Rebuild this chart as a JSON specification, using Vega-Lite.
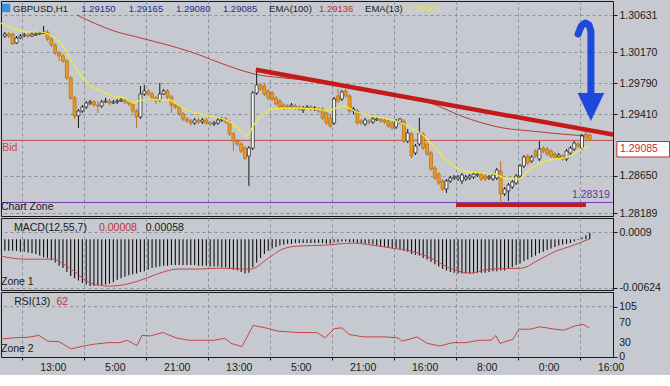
{
"$schema":"https://vega.github.io/schema/vega-lite/v6.json",
"background":"#c6cad0",
"padding":0,
"spacing":2,
"bounds":"flush",
"config":{
 "view":{"stroke":"#1a1a1a","strokeWidth":1},
 "axis":{"labelFont":"Liberation Sans","labelFontSize":10.5,"labelColor":"#1a1a1a","domainColor":"#1a1a1a","tickColor":"#1a1a1a","gridColor":"#8a919b","gridDash":[3,3],"gridWidth":1,"tickSize":4,"labelPadding":2},
 "scale":{"continuousPadding":0},
 "text":{"font":"Liberation Sans","fontSize":10.5,"align":"left","baseline":"middle"}
},
"datasets":{
 "candles":[
{"i":1,"o":1.30372,"h":1.30422,"l":1.30348,"c":1.30397},
{"i":2,"o":1.30397,"h":1.30422,"l":1.30348,"c":1.30372},
{"i":3,"o":1.30397,"h":1.30409,"l":1.30261,"c":1.30274},
{"i":4,"o":1.30286,"h":1.30372,"l":1.30274,"c":1.30348},
{"i":5,"o":1.30348,"h":1.30397,"l":1.30335,"c":1.30372},
{"i":6,"o":1.30372,"h":1.30409,"l":1.3036,"c":1.30385},
{"i":7,"o":1.30385,"h":1.30409,"l":1.30348,"c":1.30372},
{"i":8,"o":1.30372,"h":1.30422,"l":1.3036,"c":1.30397},
{"i":9,"o":1.30385,"h":1.30422,"l":1.30372,"c":1.30397},
{"i":10,"o":1.30397,"h":1.30434,"l":1.30385,"c":1.30409},
{"i":11,"o":1.30409,"h":1.30496,"l":1.30397,"c":1.30422},
{"i":12,"o":1.30422,"h":1.30446,"l":1.30311,"c":1.30335},
{"i":13,"o":1.30335,"h":1.3036,"l":1.30237,"c":1.30261},
{"i":14,"o":1.30261,"h":1.30286,"l":1.30138,"c":1.30163},
{"i":15,"o":1.30163,"h":1.30187,"l":1.30064,"c":1.30126},
{"i":16,"o":1.30126,"h":1.3015,"l":1.30039,"c":1.30064},
{"i":17,"o":1.30064,"h":1.30089,"l":1.2983,"c":1.29854},
{"i":18,"o":1.29854,"h":1.29879,"l":1.29583,"c":1.29608},
{"i":19,"o":1.29608,"h":1.29632,"l":1.29349,"c":1.29386},
{"i":20,"o":1.29386,"h":1.29472,"l":1.29238,"c":1.29447},
{"i":21,"o":1.29447,"h":1.29521,"l":1.29423,"c":1.29497},
{"i":22,"o":1.29497,"h":1.29571,"l":1.29472,"c":1.29546},
{"i":23,"o":1.29546,"h":1.29583,"l":1.29521,"c":1.29558},
{"i":24,"o":1.29558,"h":1.29583,"l":1.29497,"c":1.29521},
{"i":25,"o":1.29521,"h":1.29571,"l":1.29423,"c":1.29509},
{"i":26,"o":1.29509,"h":1.29583,"l":1.29484,"c":1.29558},
{"i":27,"o":1.29558,"h":1.29608,"l":1.29546,"c":1.29571},
{"i":28,"o":1.29571,"h":1.29595,"l":1.29521,"c":1.29546},
{"i":29,"o":1.29546,"h":1.29583,"l":1.29534,"c":1.29558},
{"i":30,"o":1.29558,"h":1.29595,"l":1.29534,"c":1.29571},
{"i":31,"o":1.29571,"h":1.29608,"l":1.29558,"c":1.29583},
{"i":32,"o":1.29583,"h":1.29608,"l":1.29534,"c":1.29558},
{"i":33,"o":1.29558,"h":1.29583,"l":1.29509,"c":1.29534},
{"i":34,"o":1.29534,"h":1.29558,"l":1.29423,"c":1.29447},
{"i":35,"o":1.29447,"h":1.29472,"l":1.29238,"c":1.29373},
{"i":36,"o":1.29373,"h":1.29756,"l":1.29349,"c":1.29657},
{"i":37,"o":1.29657,"h":1.29768,"l":1.29632,"c":1.29694},
{"i":38,"o":1.29694,"h":1.29719,"l":1.29632,"c":1.29657},
{"i":39,"o":1.29657,"h":1.29682,"l":1.29571,"c":1.29608},
{"i":40,"o":1.29608,"h":1.29632,"l":1.29534,"c":1.29571},
{"i":41,"o":1.29583,"h":1.29793,"l":1.29558,"c":1.29657},
{"i":42,"o":1.29657,"h":1.29719,"l":1.29645,"c":1.29694},
{"i":43,"o":1.29694,"h":1.29719,"l":1.29595,"c":1.2962},
{"i":44,"o":1.2962,"h":1.29645,"l":1.29423,"c":1.29521},
{"i":45,"o":1.29521,"h":1.29546,"l":1.29472,"c":1.29497},
{"i":46,"o":1.29497,"h":1.29521,"l":1.29386,"c":1.2941},
{"i":47,"o":1.2941,"h":1.29435,"l":1.29324,"c":1.29349},
{"i":48,"o":1.29349,"h":1.29373,"l":1.29299,"c":1.29324},
{"i":49,"o":1.29324,"h":1.29349,"l":1.29262,"c":1.29299},
{"i":50,"o":1.29299,"h":1.29361,"l":1.29275,"c":1.29336},
{"i":51,"o":1.29336,"h":1.29361,"l":1.29287,"c":1.29312},
{"i":52,"o":1.29312,"h":1.29361,"l":1.29287,"c":1.29336},
{"i":53,"o":1.29336,"h":1.29361,"l":1.29275,"c":1.29299},
{"i":54,"o":1.29299,"h":1.29324,"l":1.29262,"c":1.29287},
{"i":55,"o":1.29287,"h":1.29324,"l":1.29262,"c":1.29299},
{"i":56,"o":1.29299,"h":1.29361,"l":1.29275,"c":1.29336},
{"i":57,"o":1.29336,"h":1.29373,"l":1.29312,"c":1.29349},
{"i":58,"o":1.29349,"h":1.29373,"l":1.29287,"c":1.29312},
{"i":59,"o":1.29312,"h":1.29336,"l":1.29139,"c":1.29163},
{"i":60,"o":1.29163,"h":1.29188,"l":1.28953,"c":1.29076},
{"i":61,"o":1.29076,"h":1.29102,"l":1.29015,"c":1.2904},
{"i":62,"o":1.2904,"h":1.29064,"l":1.28929,"c":1.28953},
{"i":63,"o":1.2899,"h":1.29015,"l":1.28843,"c":1.28867},
{"i":64,"o":1.28892,"h":1.29015,"l":1.28522,"c":1.2899},
{"i":65,"o":1.2899,"h":1.29694,"l":1.28966,"c":1.29669},
{"i":66,"o":1.29669,"h":1.29965,"l":1.29645,"c":1.29768},
{"i":67,"o":1.29768,"h":1.29793,"l":1.29694,"c":1.29719},
{"i":68,"o":1.29756,"h":1.2978,"l":1.29632,"c":1.29657},
{"i":69,"o":1.29694,"h":1.29719,"l":1.29583,"c":1.29608},
{"i":70,"o":1.29669,"h":1.29694,"l":1.29571,"c":1.29595},
{"i":71,"o":1.29608,"h":1.29632,"l":1.29509,"c":1.29534},
{"i":72,"o":1.29571,"h":1.29595,"l":1.29472,"c":1.29497},
{"i":73,"o":1.29521,"h":1.29546,"l":1.2946,"c":1.29484},
{"i":74,"o":1.29509,"h":1.29534,"l":1.29472,"c":1.29497},
{"i":75,"o":1.29497,"h":1.29546,"l":1.29472,"c":1.29521},
{"i":76,"o":1.29509,"h":1.29534,"l":1.2946,"c":1.29484},
{"i":77,"o":1.29497,"h":1.29521,"l":1.29447,"c":1.29472},
{"i":78,"o":1.2946,"h":1.29509,"l":1.29423,"c":1.29484},
{"i":79,"o":1.29484,"h":1.29521,"l":1.29472,"c":1.29497},
{"i":80,"o":1.29497,"h":1.29521,"l":1.29447,"c":1.29472},
{"i":81,"o":1.29472,"h":1.29509,"l":1.29447,"c":1.29484},
{"i":82,"o":1.29472,"h":1.29497,"l":1.29423,"c":1.29447},
{"i":83,"o":1.29472,"h":1.29497,"l":1.29336,"c":1.29361},
{"i":84,"o":1.29423,"h":1.29447,"l":1.29275,"c":1.29299},
{"i":85,"o":1.29361,"h":1.2941,"l":1.29238,"c":1.29262},
{"i":86,"o":1.29299,"h":1.2962,"l":1.29275,"c":1.29595},
{"i":87,"o":1.29632,"h":1.29719,"l":1.29546,"c":1.29571},
{"i":88,"o":1.29595,"h":1.29706,"l":1.29571,"c":1.29682},
{"i":89,"o":1.29694,"h":1.29719,"l":1.29608,"c":1.29632},
{"i":90,"o":1.29632,"h":1.29657,"l":1.29423,"c":1.29447},
{"i":91,"o":1.29447,"h":1.29497,"l":1.2941,"c":1.29472},
{"i":92,"o":1.29447,"h":1.29472,"l":1.29275,"c":1.29299},
{"i":93,"o":1.29324,"h":1.29349,"l":1.29275,"c":1.29299},
{"i":94,"o":1.29287,"h":1.29361,"l":1.29262,"c":1.29336},
{"i":95,"o":1.29324,"h":1.29349,"l":1.29287,"c":1.29312},
{"i":96,"o":1.29312,"h":1.29373,"l":1.29287,"c":1.29349},
{"i":97,"o":1.29336,"h":1.29373,"l":1.29324,"c":1.29349},
{"i":98,"o":1.29349,"h":1.29373,"l":1.29299,"c":1.29324},
{"i":99,"o":1.29336,"h":1.29361,"l":1.29287,"c":1.29312},
{"i":100,"o":1.29324,"h":1.29349,"l":1.29238,"c":1.29262},
{"i":101,"o":1.29299,"h":1.29324,"l":1.29213,"c":1.29238},
{"i":102,"o":1.2925,"h":1.29349,"l":1.29225,"c":1.29324},
{"i":103,"o":1.29312,"h":1.29361,"l":1.29287,"c":1.29349},
{"i":104,"o":1.29324,"h":1.29349,"l":1.29052,"c":1.29076},
{"i":105,"o":1.29076,"h":1.29225,"l":1.29052,"c":1.29176},
{"i":106,"o":1.29163,"h":1.29188,"l":1.28867,"c":1.28892},
{"i":107,"o":1.28929,"h":1.2904,"l":1.28904,"c":1.29015},
{"i":108,"o":1.2904,"h":1.29361,"l":1.29015,"c":1.29176},
{"i":109,"o":1.29163,"h":1.29188,"l":1.28966,"c":1.2899},
{"i":110,"o":1.2904,"h":1.29064,"l":1.28892,"c":1.28916},
{"i":111,"o":1.28929,"h":1.28953,"l":1.28707,"c":1.28732},
{"i":112,"o":1.28744,"h":1.28769,"l":1.28596,"c":1.28621},
{"i":113,"o":1.2867,"h":1.28695,"l":1.28535,"c":1.28559},
{"i":114,"o":1.28584,"h":1.28609,"l":1.28461,"c":1.28485},
{"i":115,"o":1.28485,"h":1.28609,"l":1.28436,"c":1.28584},
{"i":116,"o":1.28584,"h":1.28645,"l":1.28559,"c":1.28621},
{"i":117,"o":1.28621,"h":1.28658,"l":1.28596,"c":1.28633},
{"i":118,"o":1.28609,"h":1.28658,"l":1.28584,"c":1.28633},
{"i":119,"o":1.28584,"h":1.28682,"l":1.28547,"c":1.28658},
{"i":120,"o":1.28609,"h":1.28658,"l":1.28584,"c":1.28633},
{"i":121,"o":1.28621,"h":1.2867,"l":1.28596,"c":1.28645},
{"i":122,"o":1.28633,"h":1.28695,"l":1.28609,"c":1.2867},
{"i":123,"o":1.28658,"h":1.28695,"l":1.28633,"c":1.2867},
{"i":124,"o":1.2867,"h":1.28695,"l":1.28584,"c":1.28609},
{"i":125,"o":1.28645,"h":1.2867,"l":1.28584,"c":1.28609},
{"i":126,"o":1.28621,"h":1.28658,"l":1.28596,"c":1.28633},
{"i":127,"o":1.28609,"h":1.28682,"l":1.28584,"c":1.28658},
{"i":128,"o":1.28621,"h":1.28744,"l":1.28596,"c":1.28719},
{"i":129,"o":1.28707,"h":1.2883,"l":1.28313,"c":1.28424},
{"i":130,"o":1.28424,"h":1.2851,"l":1.28399,"c":1.28485},
{"i":131,"o":1.28461,"h":1.28559,"l":1.28337,"c":1.28535},
{"i":132,"o":1.2851,"h":1.28596,"l":1.28485,"c":1.28572},
{"i":133,"o":1.28559,"h":1.2867,"l":1.28535,"c":1.28645},
{"i":134,"o":1.28645,"h":1.28793,"l":1.28621,"c":1.28769},
{"i":135,"o":1.28769,"h":1.28904,"l":1.28744,"c":1.28879},
{"i":136,"o":1.28892,"h":1.28916,"l":1.28781,"c":1.28806},
{"i":137,"o":1.2883,"h":1.28904,"l":1.28806,"c":1.28879},
{"i":138,"o":1.28953,"h":1.28978,"l":1.28867,"c":1.28892},
{"i":139,"o":1.28855,"h":1.29076,"l":1.2883,"c":1.28978},
{"i":140,"o":1.2899,"h":1.29015,"l":1.28929,"c":1.28953},
{"i":141,"o":1.28978,"h":1.29002,"l":1.28892,"c":1.28916},
{"i":142,"o":1.28953,"h":1.28978,"l":1.28867,"c":1.28892},
{"i":143,"o":1.28916,"h":1.28941,"l":1.28843,"c":1.28867},
{"i":144,"o":1.28879,"h":1.28929,"l":1.28855,"c":1.28904},
{"i":145,"o":1.28892,"h":1.28916,"l":1.2883,"c":1.28855},
{"i":146,"o":1.28855,"h":1.28978,"l":1.2883,"c":1.28953},
{"i":147,"o":1.28929,"h":1.29015,"l":1.28904,"c":1.2899},
{"i":148,"o":1.28978,"h":1.29076,"l":1.28953,"c":1.29052},
{"i":149,"o":1.2904,"h":1.29064,"l":1.2899,"c":1.29015},
{"i":150,"o":1.2899,"h":1.29163,"l":1.28966,"c":1.29139},
{"i":151,"o":1.29163,"h":1.29188,"l":1.29089,"c":1.29114},
{"i":152,"o":1.2915,"h":1.29165,"l":1.2908,"c":1.29085}
 ],
 "ema13":[
{"i":0,"v":1.30533},{"i":2.6,"v":1.30471},{"i":5.2,"v":1.30434},{"i":7.7,"v":1.30422},{"i":10.3,"v":1.30422},{"i":12.1,"v":1.30397},{"i":14.2,"v":1.30335},{"i":16.3,"v":1.30224},{"i":18.1,"v":1.30064},{"i":20.7,"v":1.29879},{"i":23.2,"v":1.29756},{"i":25.8,"v":1.29694},{"i":29.2,"v":1.29632},{"i":31.8,"v":1.29608},{"i":34.1,"v":1.29546},{"i":35.6,"v":1.29571},{"i":38,"v":1.29595},{"i":40.5,"v":1.29583},{"i":43.4,"v":1.29583},{"i":47,"v":1.29484},{"i":50.3,"v":1.29423},{"i":53.7,"v":1.29386},{"i":57.3,"v":1.29349},{"i":60.7,"v":1.29262},{"i":63.3,"v":1.29139},{"i":65.1,"v":1.29262},{"i":66.6,"v":1.29361},{"i":68.4,"v":1.29423},{"i":70.2,"v":1.29472},{"i":74.4,"v":1.29484},{"i":81.3,"v":1.29472},{"i":84.4,"v":1.29447},{"i":86.5,"v":1.29484},{"i":88.6,"v":1.29509},{"i":91.1,"v":1.29447},{"i":95.5,"v":1.29386},{"i":99.9,"v":1.29349},{"i":103.3,"v":1.29299},{"i":105.9,"v":1.29238},{"i":109.2,"v":1.29139},{"i":112.8,"v":1.28953},{"i":116.2,"v":1.28794},{"i":119.5,"v":1.28707},{"i":123.9,"v":1.28683},{"i":127.3,"v":1.2867},{"i":130.9,"v":1.28609},{"i":133.5,"v":1.28609},{"i":136.1,"v":1.28707},{"i":139.4,"v":1.28806},{"i":142.8,"v":1.28855},{"i":145.4,"v":1.28868},{"i":147.9,"v":1.28917},{"i":150.5,"v":1.28991},{"i":151.8,"v":1.29003}
 ],
 "ema100":[
{"i":19.6,"v":1.30631},{"i":29.2,"v":1.30434},{"i":36.1,"v":1.30348},{"i":48.3,"v":1.30187},{"i":60.2,"v":1.29978},{"i":65.3,"v":1.29904},{"i":73.1,"v":1.29854},{"i":86,"v":1.29793},{"i":95,"v":1.29706},{"i":103.3,"v":1.2962},{"i":111.5,"v":1.29534},{"i":118.8,"v":1.29386},{"i":129.6,"v":1.29238},{"i":136.8,"v":1.292},{"i":144.6,"v":1.29163},{"i":152,"v":1.29136}
 ],
 "macd":[
{"i":1,"v":-0.0015},{"i":2,"v":-0.0015},{"i":3,"v":-0.0015},{"i":4,"v":-0.0015},{"i":5,"v":-0.0016},{"i":6,"v":-0.0016},{"i":7,"v":-0.0017},{"i":8,"v":-0.0018},{"i":9,"v":-0.0019},{"i":10,"v":-0.0021},
{"i":11,"v":-0.0023},{"i":12,"v":-0.0024},{"i":13,"v":-0.0027},{"i":14,"v":-0.003},{"i":15,"v":-0.0034},{"i":16,"v":-0.0037},{"i":17,"v":-0.0042},{"i":18,"v":-0.0047},{"i":19,"v":-0.005},{"i":20,"v":-0.0053},
{"i":21,"v":-0.0056},{"i":22,"v":-0.0058},{"i":23,"v":-0.006},{"i":24,"v":-0.006},{"i":25,"v":-0.0059},{"i":26,"v":-0.0059},{"i":27,"v":-0.0058},{"i":28,"v":-0.0057},{"i":29,"v":-0.0055},{"i":30,"v":-0.0052},
{"i":31,"v":-0.005},{"i":32,"v":-0.0048},{"i":33,"v":-0.0046},{"i":34,"v":-0.0045},{"i":35,"v":-0.0044},{"i":36,"v":-0.0042},{"i":37,"v":-0.0041},{"i":38,"v":-0.0039},{"i":39,"v":-0.0037},{"i":40,"v":-0.0036},
{"i":41,"v":-0.0035},{"i":42,"v":-0.0034},{"i":43,"v":-0.0034},{"i":44,"v":-0.0033},{"i":45,"v":-0.0033},{"i":46,"v":-0.0033},{"i":47,"v":-0.0033},{"i":48,"v":-0.0033},{"i":49,"v":-0.0033},{"i":50,"v":-0.0033},
{"i":51,"v":-0.0034},{"i":52,"v":-0.0034},{"i":53,"v":-0.0034},{"i":54,"v":-0.0035},{"i":55,"v":-0.0035},{"i":56,"v":-0.0035},{"i":57,"v":-0.0036},{"i":58,"v":-0.0036},{"i":59,"v":-0.0037},{"i":60,"v":-0.0039},
{"i":61,"v":-0.004},{"i":62,"v":-0.0042},{"i":63,"v":-0.0044},{"i":64,"v":-0.0043},{"i":65,"v":-0.0036},{"i":66,"v":-0.003},{"i":67,"v":-0.0024},{"i":68,"v":-0.0019},{"i":69,"v":-0.0015},{"i":70,"v":-0.0012},
{"i":71,"v":-0.001},{"i":72,"v":-0.0008},{"i":73,"v":-0.0007},{"i":74,"v":-0.0006},{"i":75,"v":-0.0006},{"i":76,"v":-0.0005},{"i":77,"v":-0.0005},{"i":78,"v":-0.0005},{"i":79,"v":-0.0005},{"i":80,"v":-0.0005},
{"i":81,"v":-0.0005},{"i":82,"v":-0.0005},{"i":83,"v":-0.0005},{"i":84,"v":-0.0006},{"i":85,"v":-0.0006},{"i":86,"v":-0.0004},{"i":87,"v":-0.0004},{"i":88,"v":-0.0003},{"i":89,"v":-0.0003},{"i":90,"v":-0.0004},
{"i":91,"v":-0.0004},{"i":92,"v":-0.0005},{"i":93,"v":-0.0005},{"i":94,"v":-0.0006},{"i":95,"v":-0.0006},{"i":96,"v":-0.0007},{"i":97,"v":-0.0008},{"i":98,"v":-0.0009},{"i":99,"v":-0.001},{"i":100,"v":-0.0011},
{"i":101,"v":-0.0012},{"i":102,"v":-0.0012},{"i":103,"v":-0.0013},{"i":104,"v":-0.0015},{"i":105,"v":-0.0016},{"i":106,"v":-0.0019},{"i":107,"v":-0.002},{"i":108,"v":-0.0021},{"i":109,"v":-0.0024},{"i":110,"v":-0.0026},
{"i":111,"v":-0.0029},{"i":112,"v":-0.0032},{"i":113,"v":-0.0035},{"i":114,"v":-0.0038},{"i":115,"v":-0.004},{"i":116,"v":-0.0042},{"i":117,"v":-0.0043},{"i":118,"v":-0.0044},{"i":119,"v":-0.0044},{"i":120,"v":-0.0044},
{"i":121,"v":-0.0044},{"i":122,"v":-0.0044},{"i":123,"v":-0.0043},{"i":124,"v":-0.0043},{"i":125,"v":-0.0043},{"i":126,"v":-0.0042},{"i":127,"v":-0.0041},{"i":128,"v":-0.0041},{"i":129,"v":-0.004},{"i":130,"v":-0.004},
{"i":131,"v":-0.0038},{"i":132,"v":-0.0036},{"i":133,"v":-0.0033},{"i":134,"v":-0.0031},{"i":135,"v":-0.0028},{"i":136,"v":-0.0026},{"i":137,"v":-0.0023},{"i":138,"v":-0.0021},{"i":139,"v":-0.0018},{"i":140,"v":-0.0016},
{"i":141,"v":-0.0014},{"i":142,"v":-0.0012},{"i":143,"v":-0.001},{"i":144,"v":-0.0008},{"i":145,"v":-0.0007},{"i":146,"v":-0.0006},{"i":147,"v":-0.0005},{"i":148,"v":-0.0003},{"i":149,"v":-0.0001},{"i":150,"v":0.0002},
{"i":151,"v":0.0005},{"i":152,"v":0.0008}
 ],
 "signal":[
{"i":0,"v":-0.00217},{"i":5.9,"v":-0.00256},{"i":13.2,"v":-0.00256},{"i":18.1,"v":-0.00383},{"i":23.2,"v":-0.00562},{"i":28.1,"v":-0.00601},{"i":35.4,"v":-0.00537},{"i":40.3,"v":-0.00447},{"i":45.4,"v":-0.00383},{"i":50.3,"v":-0.00383},{"i":56.5,"v":-0.00371},{"i":64.5,"v":-0.00383},{"i":68.7,"v":-0.00256},{"i":72.6,"v":-0.00128},{"i":76.7,"v":-0.00089},{"i":83.7,"v":-0.00077},{"i":90.9,"v":-0.00051},{"i":95.8,"v":-0.00077},{"i":101,"v":-0.00115},{"i":105.9,"v":-0.00153},{"i":111,"v":-0.00243},{"i":115.9,"v":-0.00371},{"i":121.1,"v":-0.00434},{"i":126,"v":-0.00383},{"i":134.3,"v":-0.00371},{"i":139.2,"v":-0.00256},{"i":143.3,"v":-0.00153},{"i":147.2,"v":-0.00089},{"i":151.8,"v":0}
 ],
 "rsi":[
{"i":0,"v":37.6},{"i":3.4,"v":40},{"i":6.7,"v":41},{"i":9.8,"v":45},{"i":12.1,"v":33},{"i":15,"v":32},{"i":18.1,"v":17},{"i":21.4,"v":23},{"i":23.8,"v":26.5},{"i":27.6,"v":30},{"i":30.7,"v":30},{"i":32.5,"v":35},{"i":35.1,"v":24},{"i":36.4,"v":45},{"i":38.5,"v":44},{"i":41.8,"v":51},{"i":45.2,"v":40},{"i":48.5,"v":35},{"i":51.6,"v":35},{"i":55,"v":35},{"i":57.8,"v":39},{"i":59.4,"v":28.5},{"i":62.2,"v":21.5},{"i":65.1,"v":66},{"i":68.2,"v":61},{"i":71.5,"v":54},{"i":76.9,"v":51},{"i":81.6,"v":51},{"i":83.7,"v":40},{"i":86,"v":59},{"i":88,"v":61},{"i":89.9,"v":47},{"i":93.5,"v":42},{"i":99.1,"v":42},{"i":102.5,"v":40},{"i":103.5,"v":33},{"i":105.6,"v":37.6},{"i":107.4,"v":42},{"i":110,"v":28.5},{"i":113.3,"v":23},{"i":116.7,"v":30},{"i":120.1,"v":30},{"i":123.4,"v":35},{"i":126.5,"v":35},{"i":127.8,"v":45},{"i":128.8,"v":28.5},{"i":132.2,"v":37},{"i":133.7,"v":58},{"i":136.6,"v":58},{"i":139.2,"v":63},{"i":143,"v":58},{"i":145.4,"v":56},{"i":148.2,"v":65},{"i":150.3,"v":68},{"i":151.8,"v":61}
 ]
},
"resolve":{"scale":{"x":"independent","y":"independent"},"axis":{"x":"independent","y":"independent"}},
"vconcat":[
{
 "width":612,"height":215,
 "layer":[
  {"data":{"values":[{"p":1.29085}]},"mark":{"type":"rule","color":"#c24848","strokeWidth":1},
   "encoding":{"y":{"field":"p","type":"quantitative","title":null,"scale":{"domain":[1.28152,1.30804],"nice":false,"zero":false},
     "axis":{"orient":"right","values":[1.30631,1.3017,1.2979,1.2941,1.2865,1.28189],"format":".5f","grid":true,"title":null}}}},
  {"data":{"values":[{"p":1.28319}]},"mark":{"type":"rule","color":"#7a3cb4","strokeWidth":1},
   "encoding":{"y":{"field":"p","type":"quantitative","title":null}}},
  {"data":{"name":"ema100"},"mark":{"type":"line","color":"#b43a3a","strokeWidth":1,"clip":true,"interpolate":"monotone"},
   "encoding":{"x":{"field":"i","type":"quantitative","title":null,"scale":{"domain":[0,158],"nice":false,"zero":false,"padding":0},
     "axis":{"values":[5.5,13.5,21.5,29.5,37.5,45.5,53.5,61.5,69.5,77.5,85.5,93.5,101.5,109.5,117.5,125.5,133.5,141.5,149.5,157.5],"grid":true,"labels":false,"ticks":false,"domain":false,"title":null}},
    "y":{"field":"v","type":"quantitative","title":null}}},
  {"data":{"name":"candles"},"mark":{"type":"rule","strokeWidth":1,"clip":true},
   "encoding":{"x":{"field":"i","type":"quantitative","title":null},
    "y":{"field":"l","type":"quantitative","title":null},"y2":{"field":"h"},
    "color":{"condition":{"test":"datum.c >= datum.o","value":"#1a1a1a"},"value":"#b8741c"}}},
  {"data":{"name":"candles"},"mark":{"type":"bar","size":3,"strokeWidth":0.7,"orient":"vertical","clip":true},
   "encoding":{"x":{"field":"i","type":"quantitative","title":null},
    "y":{"field":"o","type":"quantitative","title":null},"y2":{"field":"c"},
    "fill":{"condition":{"test":"datum.c >= datum.o","value":"#f4f4f4"},"value":"#eb9b22"},
    "stroke":{"condition":{"test":"datum.c >= datum.o","value":"#1a1a1a"},"value":"#b06a14"}}},
  {"data":{"name":"ema13"},"mark":{"type":"line","color":"#eeea40","strokeWidth":1.3,"clip":true,"interpolate":"monotone"},
   "encoding":{"x":{"field":"i","type":"quantitative","title":null},"y":{"field":"v","type":"quantitative","title":null}}},
  {"data":{"values":[{"i":65.8,"p":1.29955},{"i":158,"p":1.29156}]},"mark":{"type":"line","color":"#c41a1a","strokeWidth":4.5,"clip":true},
   "encoding":{"x":{"field":"i","type":"quantitative","title":null},"y":{"field":"p","type":"quantitative","title":null}}},
  {"data":{"values":[{"i":117.5,"p":1.28288},{"i":151,"p":1.28288}]},"mark":{"type":"line","color":"#c41a1a","strokeWidth":4,"clip":true},
   "encoding":{"x":{"field":"i","type":"quantitative","title":null},"y":{"field":"p","type":"quantitative","title":null}}},
  {"data":{"values":[{"k":1,"i":149.0,"p":1.30397},{"k":2,"i":149.8,"p":1.30496},{"k":3,"i":150.8,"p":1.30533},{"k":4,"i":151.8,"p":1.30508},{"k":5,"i":152.3,"p":1.30434},{"k":6,"i":152.3,"p":1.29669}]},
   "mark":{"type":"line","color":"#1f48dc","strokeWidth":7,"strokeCap":"round","strokeJoin":"round","clip":true},
   "encoding":{"x":{"field":"i","type":"quantitative","title":null},"y":{"field":"p","type":"quantitative","title":null},"order":{"field":"k"}}},
  {"data":{"values":[{"i":152.3,"p":1.29497}]},
   "mark":{"type":"point","shape":"M-0.95,-1L0.95,-1L0,1Z","size":784,"filled":true,"color":"#1f48dc","opacity":1},
   "encoding":{"x":{"field":"i","type":"quantitative","title":null},"y":{"field":"p","type":"quantitative","title":null}}},
  {"data":{"values":[{"i":1.3,"p":1.30718}]},
   "mark":{"type":"point","shape":"square","size":70,"filled":true,"color":"#3d8fe0","opacity":1},
   "encoding":{"x":{"field":"i","type":"quantitative","title":null},"y":{"field":"p","type":"quantitative","title":null}}},
  {"data":{"values":[{"i":3.1,"p":1.30705,"t":"GBPUSD,H1"},{"i":69.2,"p":1.30705,"t":"EMA(100)"},{"i":94,"p":1.30705,"t":"EMA(13)"}]},
   "mark":{"type":"text","color":"#1a1a1a","fontSize":9.5},
   "encoding":{"x":{"field":"i","type":"quantitative","title":null},"y":{"field":"p","type":"quantitative","title":null},"text":{"field":"t"}}},
  {"data":{"values":[{"i":20.7,"p":1.30705,"t":"1.29150"},{"i":33,"p":1.30705,"t":"1.29165"},{"i":45.2,"p":1.30705,"t":"1.29080"},{"i":57.3,"p":1.30705,"t":"1.29085"}]},
   "mark":{"type":"text","color":"#1f2e8e","fontSize":9.5},
   "encoding":{"x":{"field":"i","type":"quantitative","title":null},"y":{"field":"p","type":"quantitative","title":null},"text":{"field":"t"}}},
  {"data":{"values":[{"i":82.1,"p":1.30705,"t":"1.29136"}]},
   "mark":{"type":"text","color":"#c03030","fontSize":9.5},
   "encoding":{"x":{"field":"i","type":"quantitative","title":null},"y":{"field":"p","type":"quantitative","title":null},"text":{"field":"t"}}},
  {"data":{"values":[{"i":104.6,"p":1.30705,"t":"1.29001"}]},
   "mark":{"type":"text","color":"#e8e43a","fontSize":9.5},
   "encoding":{"x":{"field":"i","type":"quantitative","title":null},"y":{"field":"p","type":"quantitative","title":null},"text":{"field":"t"}}},
  {"data":{"values":[{"i":0.3,"p":1.28985,"t":"Bid"}]},
   "mark":{"type":"text","color":"#c24848"},
   "encoding":{"x":{"field":"i","type":"quantitative","title":null},"y":{"field":"p","type":"quantitative","title":null},"text":{"field":"t"}}},
  {"data":{"values":[{"i":0,"p":1.28263,"t":"Chart Zone"}]},
   "mark":{"type":"text","color":"#1a1a1a"},
   "encoding":{"x":{"field":"i","type":"quantitative","title":null},"y":{"field":"p","type":"quantitative","title":null},"text":{"field":"t"}}},
  {"data":{"values":[{"i":157.2,"p":1.28411,"t":"1.28319"}]},
   "mark":{"type":"text","color":"#6e30a8","align":"right"},
   "encoding":{"x":{"field":"i","type":"quantitative","title":null},"y":{"field":"p","type":"quantitative","title":null},"text":{"field":"t"}}},
  {"data":{"values":[{"i":159,"i2":172.6,"p":1.29071,"p2":1.2888}]},
   "mark":{"type":"rect","fill":"#ffffff","stroke":"#c03030","strokeWidth":1,"clip":false},
   "encoding":{"x":{"field":"i","type":"quantitative","title":null},"x2":{"field":"i2"},"y":{"field":"p","type":"quantitative","title":null},"y2":{"field":"p2"}}},
  {"data":{"values":[{"i":159.8,"p":1.28978,"t":"1.29085"}]},
   "mark":{"type":"text","color":"#c03030","clip":false},
   "encoding":{"x":{"field":"i","type":"quantitative","title":null},"y":{"field":"p","type":"quantitative","title":null},"text":{"field":"t"}}}
 ]
},
{
 "width":612,"height":72,
 "layer":[
  {"data":{"name":"macd"},"mark":{"type":"rule","color":"#0d0d0d","strokeWidth":1.1,"clip":true},
   "encoding":{"x":{"field":"i","type":"quantitative","title":null,"scale":{"domain":[0,158],"nice":false,"zero":false},
     "axis":{"values":[5.5,13.5,21.5,29.5,37.5,45.5,53.5,61.5,69.5,77.5,85.5,93.5,101.5,109.5,117.5,125.5,133.5,141.5,149.5,157.5],"grid":true,"labels":false,"ticks":false,"domain":false,"title":null}},
    "y":{"field":"v","type":"quantitative","title":null,"scale":{"domain":[-0.0065,0.0027],"nice":false,"zero":false},
     "axis":{"orient":"right","values":[0.0009,-0.00624],"labelExpr":"datum.value > 0 ? '0.0009' : '-0.00624'","grid":true,"title":null}},
    "y2":{"datum":0}}},
  {"data":{"name":"signal"},"mark":{"type":"line","color":"#c84444","strokeWidth":1,"clip":true,"interpolate":"monotone"},
   "encoding":{"x":{"field":"i","type":"quantitative","title":null},"y":{"field":"v","type":"quantitative","title":null}}},
  {"data":{"values":[{"i":3.36,"p":0.00147,"t":"MACD(12,55,7)"},{"i":37.4,"p":0.00147,"t":"0.00058"},{"i":0,"p":-0.00549,"t":"Zone 1"}]},
   "mark":{"type":"text","color":"#1a1a1a"},
   "encoding":{"x":{"field":"i","type":"quantitative","title":null},"y":{"field":"p","type":"quantitative","title":null},"text":{"field":"t"}}},
  {"data":{"values":[{"i":25.3,"p":0.00147,"t":"0.00008"}]},
   "mark":{"type":"text","color":"#c03030"},
   "encoding":{"x":{"field":"i","type":"quantitative","title":null},"y":{"field":"p","type":"quantitative","title":null},"text":{"field":"t"}}}
 ]
},
{
 "width":612,"height":65,
 "layer":[
  {"data":{"values":[{"p":105}]},"mark":{"type":"rule","color":"#8a919b","strokeDash":[3,3],"strokeWidth":1},
   "encoding":{"y":{"field":"p","type":"quantitative","title":null,"scale":{"domain":[0,135.7],"nice":false,"zero":false},
     "axis":{"orient":"right","values":[105,70,30,0],"labels":false,"grid":false,"title":null}}}},
  {"data":{"name":"rsi"},"mark":{"type":"line","color":"#c84444","strokeWidth":1,"clip":true},
   "encoding":{"x":{"field":"i","type":"quantitative","title":null,"scale":{"domain":[0,158],"nice":false,"zero":false},
     "axis":{"orient":"bottom","values":[5.5,13.5,21.5,29.5,37.5,45.5,53.5,61.5,69.5,77.5,85.5,93.5,101.5,109.5,117.5,125.5,133.5,141.5,149.5,157.5],"grid":true,"labels":false,"ticks":true,"tickSize":3,"domain":false,"title":null}},
    "y":{"field":"v","type":"quantitative","title":null}}},
  {"data":{"values":[{"v":105,"t":"105"},{"v":70,"t":"70"},{"v":30,"t":"30"},{"v":0,"t":"0"}]},
   "mark":{"type":"text","color":"#1a1a1a","clip":false},
   "encoding":{"x":{"datum":159.6},"y":{"field":"v","type":"quantitative","title":null},"text":{"field":"t"}}},
  {"data":{"values":[{"i":13.5,"t":"13:00"},{"i":29.5,"t":"5:00"},{"i":45.5,"t":"21:00"},{"i":61.5,"t":"13:00"},{"i":77.5,"t":"5:00"},{"i":93.5,"t":"21:00"},{"i":109.5,"t":"16:00"},{"i":125.5,"t":"8:00"},{"i":141.5,"t":"0:00"},{"i":157.5,"t":"16:00"}]},
   "mark":{"type":"text","color":"#1a1a1a","align":"center","clip":false},
   "encoding":{"x":{"field":"i","type":"quantitative","title":null},"y":{"datum":-24},"text":{"field":"t"}}},
  {"data":{"values":[{"i":3.4,"p":114.8,"t":"RSI(13)"},{"i":0,"p":16.7,"t":"Zone 2"}]},
   "mark":{"type":"text","color":"#1a1a1a"},
   "encoding":{"x":{"field":"i","type":"quantitative","title":null},"y":{"field":"p","type":"quantitative","title":null},"text":{"field":"t"}}},
  {"data":{"values":[{"i":14.3,"p":114.8,"t":"62"}]},
   "mark":{"type":"text","color":"#c03030"},
   "encoding":{"x":{"field":"i","type":"quantitative","title":null},"y":{"field":"p","type":"quantitative","title":null},"text":{"field":"t"}}}
 ]
}
]
}
